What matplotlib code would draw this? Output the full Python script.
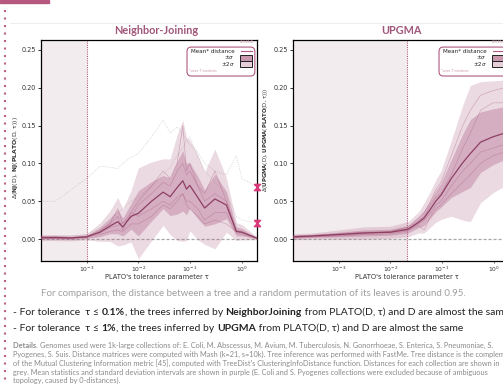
import matplotlib
matplotlib.use('Agg')
import matplotlib.pyplot as plt
import numpy as np
from matplotlib.patches import Rectangle, FancyBboxPatch
from matplotlib.lines import Line2D

# ---- data ----
tau_nj = [1.3e-4, 2.5e-4, 5e-4, 1e-3, 1.8e-3, 2.8e-3, 4e-3, 5e-3, 7.2e-3, 1e-2, 1.8e-2, 3e-2,
          4.1e-2, 5.6e-2, 7.2e-2, 8.5e-2, 9.8e-2, 0.14, 0.19, 0.3, 0.5, 0.78, 1.0, 1.95]
mean_nj = [0.002, 0.002, 0.0015, 0.003, 0.009, 0.017, 0.023, 0.016, 0.030, 0.034, 0.050, 0.062,
           0.056, 0.068, 0.077, 0.066, 0.071, 0.055, 0.041, 0.053, 0.045, 0.010, 0.009, 0.001]
std_nj = [0.002, 0.002, 0.002, 0.002, 0.006, 0.010, 0.016, 0.012, 0.017, 0.030, 0.026, 0.022,
          0.025, 0.035, 0.040, 0.034, 0.030, 0.028, 0.024, 0.033, 0.018, 0.006, 0.005, 0.001]
coll_nj = [
    [0.001, 0.001, 0.001, 0.003, 0.012, 0.020, 0.040, 0.020, 0.035, 0.050, 0.070, 0.090,
     0.080, 0.100, 0.150, 0.090, 0.100, 0.070, 0.060, 0.090, 0.050, 0.012, 0.010, 0.001],
    [0.003, 0.003, 0.002, 0.004, 0.008, 0.015, 0.018, 0.022, 0.028, 0.045, 0.060, 0.075,
     0.070, 0.090, 0.100, 0.085, 0.090, 0.070, 0.050, 0.060, 0.050, 0.010, 0.008, 0.002],
    [0.001, 0.001, 0.001, 0.002, 0.006, 0.010, 0.012, 0.010, 0.020, 0.020, 0.030, 0.045,
     0.040, 0.050, 0.060, 0.050, 0.050, 0.040, 0.025, 0.035, 0.035, 0.008, 0.006, 0.001],
    [0.002, 0.002, 0.002, 0.002, 0.010, 0.020, 0.030, 0.012, 0.035, 0.030, 0.040, 0.050,
     0.045, 0.055, 0.060, 0.045, 0.040, 0.030, 0.020, 0.025, 0.020, 0.010, 0.009, 0.001],
]
excl_nj = [
    [0.050, 0.050, 0.065, 0.080, 0.096, 0.095, 0.093, 0.100, 0.108, 0.113, 0.135, 0.157,
     0.140, 0.148, 0.140, 0.130, 0.125, 0.115, 0.100, 0.090, 0.085, 0.110, 0.080, 0.069],
    [0.002, 0.003, 0.004, 0.006, 0.015, 0.025, 0.035, 0.040, 0.050, 0.055, 0.070, 0.085,
     0.095, 0.110, 0.120, 0.130, 0.135, 0.110, 0.090, 0.075, 0.060, 0.030, 0.025, 0.021],
]

tau_up = [1.3e-4, 3e-4, 1e-3, 3e-3, 1e-2, 2.2e-2, 3.5e-2, 4.5e-2, 6e-2, 7.5e-2, 9.5e-2, 0.15,
          0.25, 0.35, 0.55, 0.95, 1.6, 1.95]
mean_up = [0.003, 0.004, 0.006, 0.008, 0.009, 0.013, 0.022, 0.028, 0.040, 0.050, 0.058, 0.080,
           0.101, 0.113, 0.128, 0.135, 0.140, 0.140]
std_up = [0.002, 0.002, 0.003, 0.004, 0.004, 0.005, 0.007, 0.010, 0.012, 0.014, 0.016, 0.025,
          0.038, 0.045, 0.040, 0.037, 0.035, 0.035]
coll_up = [
    [0.002, 0.003, 0.005, 0.007, 0.010, 0.016, 0.028, 0.035, 0.050, 0.065, 0.075, 0.110,
     0.150, 0.170, 0.190, 0.196, 0.200, 0.200],
    [0.004, 0.005, 0.007, 0.009, 0.010, 0.014, 0.024, 0.030, 0.045, 0.055, 0.060, 0.085,
     0.120, 0.140, 0.170, 0.180, 0.180, 0.180],
    [0.002, 0.003, 0.004, 0.006, 0.007, 0.011, 0.018, 0.012, 0.030, 0.040, 0.045, 0.060,
     0.075, 0.085, 0.100, 0.110, 0.115, 0.115],
    [0.003, 0.004, 0.006, 0.008, 0.009, 0.012, 0.020, 0.025, 0.035, 0.045, 0.050, 0.070,
     0.090, 0.100, 0.115, 0.120, 0.125, 0.125],
]
marks_nj = [0.069, 0.021]

xticks = [1e-3, 1e-2, 1e-1, 1e0]
yticks = [0.0, 0.05, 0.10, 0.15, 0.20, 0.25]

MAUVE = '#a8577d'
DARK = '#8e3f63'
PINK = '#b0587f'
LIGHTPINK = '#c996ab'
FAM = ['Lato', 'DejaVu Sans']

W, H = 503, 385
fig = plt.figure(figsize=(W / 100, H / 100), dpi=100)


def fx(x):
    return x / W


def fy(y):
    return 1 - y / H


def panel(ax, tau, mean, std, colls, excl, cut):
    tau = np.array(tau)
    m = np.array(mean)
    s = np.array(std)
    ax.axvspan(1e-5, cut, color='#f3ecef', zorder=0, lw=0)
    ax.axvline(cut, color=PINK, ls=(0, (1, 1)), lw=0.8, zorder=1)
    ax.axhline(0, color='#a8a8a8', ls=(0, (2.5, 1.5)), lw=0.9, zorder=1)
    for g in excl:
        ax.plot(tau, g, color='#999999', lw=0.5, ls=(0, (1.5, 1.5)), alpha=0.45, zorder=2)
    ax.fill_between(tau, m - 2 * s, m + 2 * s, color=MAUVE, alpha=0.22, lw=0, zorder=3)
    ax.fill_between(tau, m - s, m + s, color=MAUVE, alpha=0.32, lw=0, zorder=3)
    for c in colls:
        ax.plot(tau, c, color=MAUVE, lw=0.5, alpha=0.4, zorder=4)
    ax.plot(tau, m, color=DARK, lw=0.9, zorder=5)
    ax.set_xscale('log')
    ax.set_xlim(10 ** -3.88, 10 ** 0.29)
    ax.set_ylim(-0.029, 0.263)
    ax.set_xticks(xticks)
    ax.xaxis.set_minor_locator(matplotlib.ticker.NullLocator())
    ax.set_yticks(yticks)
    ax.set_yticklabels(['%.2f' % v for v in yticks])
    ax.tick_params(axis='x', labelsize=4.3, length=1.5, width=0.5, pad=1.5, colors='#333333')
    ax.tick_params(axis='y', labelsize=4.7, length=2, width=0.7, pad=1.5, colors='#333333')
    for sp in ax.spines.values():
        sp.set_linewidth(0.9)
        sp.set_color('black')
    # legend
    box = FancyBboxPatch((0.676, 0.837), 0.314, 0.131,
                         boxstyle='round,pad=0,rounding_size=0.02',
                         transform=ax.transAxes, fc='white', ec=PINK, lw=0.8, zorder=6)
    ax.add_patch(box)
    ax.text(0.985, 0.989, 'LEGEND', transform=ax.transAxes, fontsize=2.6, color=LIGHTPINK,
            ha='right', va='center', family=FAM, zorder=7)
    ax.text(0.895, 0.95, 'Mean* distance', transform=ax.transAxes, fontsize=4.1,
            ha='right', va='center', color='#222222', zorder=7)
    ax.add_line(Line2D([0.925, 0.977], [0.95, 0.95], transform=ax.transAxes, color=PINK,
                       lw=0.8, zorder=7))
    ax.text(0.895, 0.921, r'$\pm\sigma$', transform=ax.transAxes, fontsize=4.0,
            ha='right', va='center', color='#222222', zorder=7)
    ax.text(0.895, 0.893, r'$\pm2\sigma$', transform=ax.transAxes, fontsize=4.0,
            ha='right', va='center', color='#222222', zorder=7)
    ax.add_patch(Rectangle((0.921, 0.907), 0.058, 0.026, transform=ax.transAxes,
                           fc='#c898ad', ec='#222222', lw=0.7, zorder=7))
    ax.add_patch(Rectangle((0.921, 0.880), 0.058, 0.026, transform=ax.transAxes,
                           fc='#e6cfd9', ec='#222222', lw=0.7, zorder=7))
    ax.text(0.685, 0.858, '*over 7 matrices', transform=ax.transAxes, fontsize=2.8,
            ha='left', va='center', color=LIGHTPINK, family=FAM, zorder=7)


ax1 = fig.add_axes([fx(41), fy(261), 216 / W, 221 / H])
ax2 = fig.add_axes([fx(293), fy(261), 216 / W, 221 / H])
panel(ax1, tau_nj, mean_nj, std_nj, coll_nj, excl_nj, 1e-3)
panel(ax2, tau_up, mean_up, std_up, coll_up, [], 0.021)

# markers on the right spine of the left panel
hourglass = [(-1, 1), (1, 1), (-1, -1), (1, -1), (-1, 1)]
ax1.plot([10 ** 0.29] * len(marks_nj), marks_nj, ls='none', marker=hourglass, ms=4.5,
         color='#d9387a', mec='#d9387a', clip_on=False, zorder=10)

# titles and axis labels
fig.text(fx(156), fy(30), 'Neighbor-Joining', ha='center', va='center', fontsize=7.8,
         fontweight='bold', color='#a0557a', family=FAM)
fig.text(fx(401), fy(30), 'UPGMA', ha='center', va='center', fontsize=7.8,
         fontweight='bold', color='#a0557a', family=FAM)
fig.text(fx(157), fy(277), "PLATO's tolerance parameter τ", ha='center', va='center',
         fontsize=4.8, color='#333333')
fig.text(fx(407), fy(277), "PLATO's tolerance parameter τ", ha='center', va='center',
         fontsize=4.8, color='#333333')
fig.text(fx(16), fy(158), r'$\Delta$($\mathbf{NJ}$(D), $\mathbf{NJ}$($\mathbf{PLATO}$(D, τ)))',
         rotation=90, ha='center', va='center', fontsize=4.4, color='#333333')
fig.text(fx(266), fy(140),
         r'$\Delta$($\mathbf{UPGMA}$(D), $\mathbf{UPGMA}$($\mathbf{PLATO}$(D, τ)))',
         rotation=90, ha='center', va='center', fontsize=3.9, color='#333333')

# slide decorations
fig.patches.append(Rectangle((0, fy(3)), fx(49), 3 / H, transform=fig.transFigure,
                             color='#b5577f'))
fig.lines.append(Line2D([fx(5), fx(5)], [fy(10), 0], transform=fig.transFigure,
                        color='#c0608a', lw=1.5, ls=(0, (1, 2.6))))
fig.lines.append(Line2D([fx(10), 1], [fy(23), fy(23)], transform=fig.transFigure,
                        color='#eeeeee', lw=0.8))

fig.text(fx(253), fy(293),
         'For comparison, the distance between a tree and a random permutation of its leaves is around 0.95.',
         ha='center', va='center', fontsize=7.05, color='#9f9f9f', family=FAM)

renderer = fig.canvas.get_renderer()


def rich(x, y, parts, size, color):
    for s, w in parts:
        t = fig.text(x, y, s, fontsize=size, fontweight=w, color=color, family=FAM,
                     va='baseline', ha='left', transform=None)
        bb = t.get_window_extent(renderer)
        x = bb.x1


rich(13, H - 315, [('- For tolerance  τ ≤ ', 'normal'), ('0.1%', 'bold'),
                   (', the trees inferred by ', 'normal'), ('NeighborJoining', 'bold'),
                   (' from PLATO(D, τ) and D are almost the same', 'normal')], 7.45, '#222222')
rich(13, H - 331, [('- For tolerance  τ ≤ ', 'normal'), ('1%', 'bold'),
                   (', the trees inferred by ', 'normal'), ('UPGMA', 'bold'),
                   (' from PLATO(D, τ) and D are almost the same', 'normal')], 7.45, '#222222')

details = [
    'Genomes used were 1k-large collections of: E. Coli, M. Abscessus, M. Avium, M. Tuberculosis, N. Gonorrhoeae, S. Enterica, S. Pneumoniae, S.',
    'Pyogenes, S. Suis. Distance matrices were computed with Mash (k=21, s=10k). Tree inference was performed with FastMe. Tree distance is the complement',
    "of the Mutual Clustering Information metric [45], computed with TreeDist's ClusteringInfoDistance function. Distances for each collection are shown in",
    'grey. Mean statistics and standard deviation intervals are shown in purple (E. Coli and S. Pyogenes collections were excluded because of ambiguous',
    'topology, caused by 0-distances).',
]
rich(13, H - 348, [('Details. ', 'bold'), (details[0], 'normal')], 5.35, '#8a8a8a')
for i, line in enumerate(details[1:]):
    fig.text(13, H - 357 - 8.7 * i, line, fontsize=5.35, color='#8a8a8a', family=FAM,
             va='baseline', ha='left', transform=None)

fig.savefig('out.png', dpi=100)
